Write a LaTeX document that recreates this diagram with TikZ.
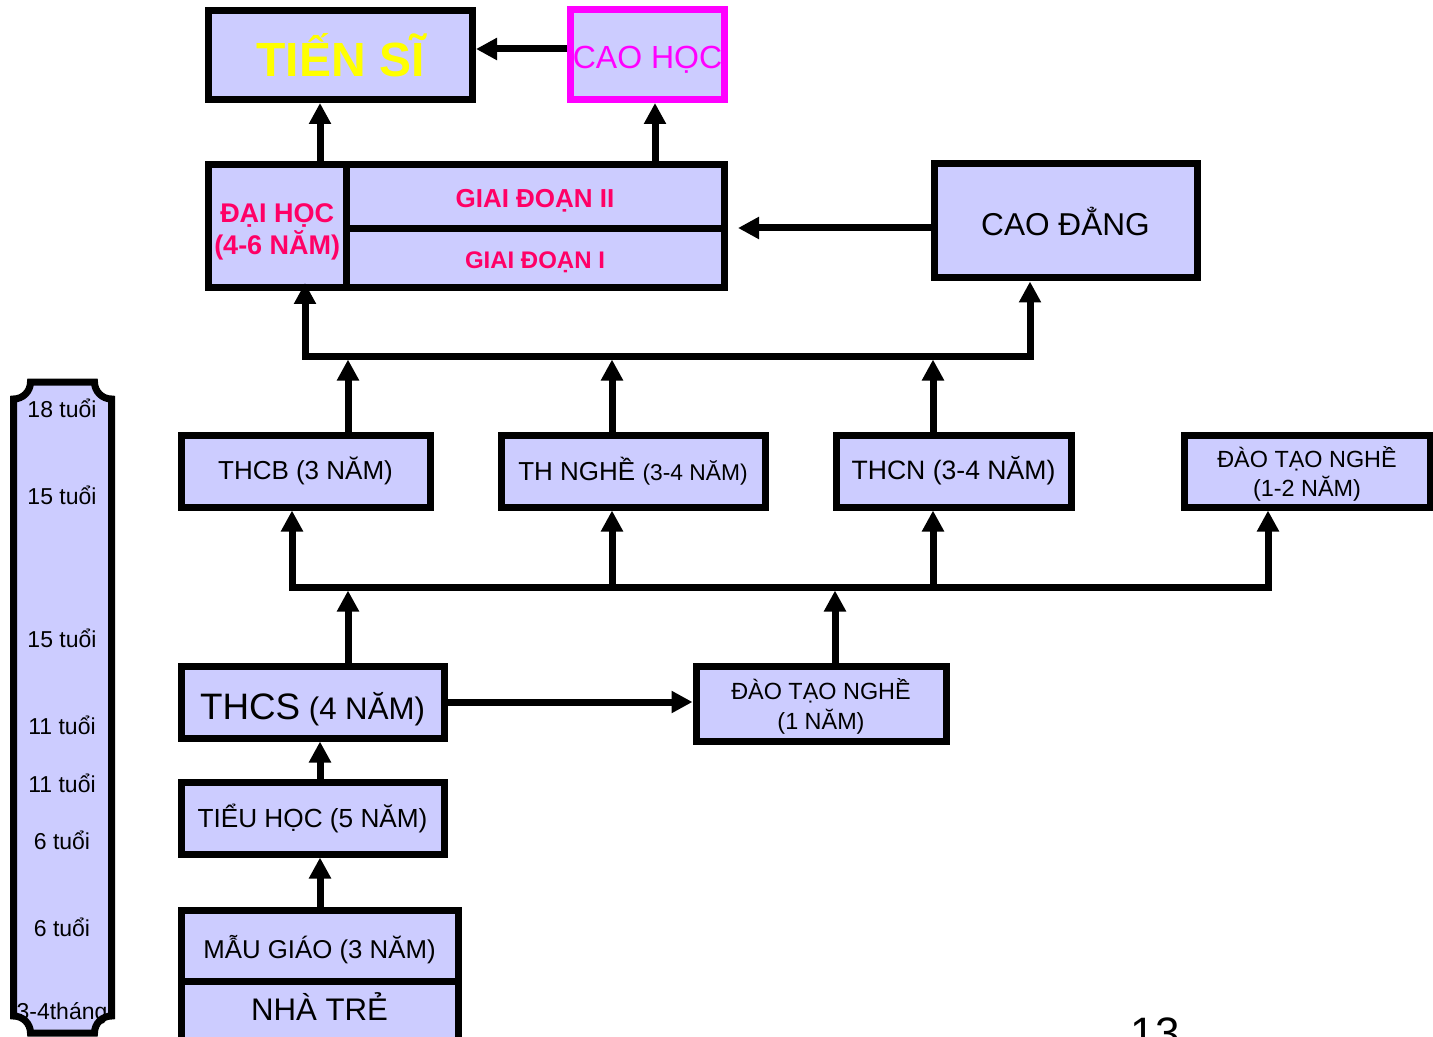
\documentclass[tikz,border=0pt]{standalone}
\usepackage{fontspec}
\setmainfont{Liberation Sans}
\usetikzlibrary{arrows.meta}
\definecolor{boxfill}{HTML}{CCCCFF}
\definecolor{pinkred}{RGB}{255,0,102}
\definecolor{mag}{RGB}{255,0,255}
\definecolor{yel}{RGB}{255,255,0}
\newcommand{\fs}[1]{\fontsize{#1}{#1}\selectfont}
\newcommand{\mystrut}[1]{\rule{0pt}{#1}}
\begin{document}
\begin{tikzpicture}[x=0.5pt,y=-0.5pt,
  box/.style={draw, line width=3.5pt, fill=boxfill, inner sep=0pt, align=center},
  arr/.style={line width=3.5pt, -{Triangle[length=10.5pt,width=10.5pt]}},
  arrtwo/.style={line width=3.5pt, {Triangle[length=10.5pt,width=10.5pt]}-{Triangle[length=10.5pt,width=10.5pt]}},
  tobus/.style={shorten >=1.75pt},
  age/.style={font=\fs{11.5}, inner sep=0pt}]
\useasboundingbox (0,0) rectangle (1433,1037);
\clip (0,0) rectangle (1433,1037);

% age scroll
\filldraw[fill=boxfill, line width=3.5pt] (30.5,382) -- (94.5,382)
  .. controls (94.5,391.4) and (102.1,399) .. (111.5,399) -- (111.5,1016)
  .. controls (102.1,1016) and (94.5,1023.6) .. (94.5,1033) -- (30.5,1033)
  .. controls (30.5,1023.6) and (22.9,1016) .. (13.5,1016) -- (13.5,399)
  .. controls (22.9,399) and (30.5,391.4) .. cycle;
\node[age] (a18) at (62,408) {18 tuổi};
\node[age] (a15a) at (62,495) {15 tuổi};
\node[age] (a15b) at (62,638) {15 tuổi};
\node[age] (a11a) at (62,725) {11 tuổi};
\node[age] (a11b) at (62,783) {11 tuổi};
\node[age] (a6a) at (62,840) {6 tuổi};
\node[age] (a6b) at (62,927) {6 tuổi};
\node[age] (a34) at (62,1013) {3-4tháng};

% boxes
\node[box, minimum width=132pt, minimum height=44.5pt, font=\bfseries\fs{24}, text=yel] (ts) at (340.5,55) {TIẾN SĨ};
\node[box, draw=mag, minimum width=77pt, minimum height=45pt, font=\fs{16}, text=mag] (ch) at (647.5,54.5) {\mystrut{16.8pt}CAO HỌC};
\node[box, minimum width=68.75pt, minimum height=61.75pt, font=\bfseries\fontsize{13.5}{16}\selectfont, text=pinkred] (dh) at (277.25,226.25) {\mystrut{14.7pt}ĐẠI HỌC\\(4-6 NĂM)};
\node[box, minimum width=189pt, minimum height=32.25pt, font=\bfseries\fs{13}, text=pinkred] (gd2) at (535,196.75) {\mystrut{13.3pt}GIAI ĐOẠN II};
\node[box, minimum width=189pt, minimum height=29.5pt, font=\bfseries\fs{12}, text=pinkred] (gd1) at (535,258.5) {\mystrut{12.6pt}GIAI ĐOẠN I};
\node[box, minimum width=131.5pt, minimum height=57pt, font=\fs{15.8}] (cd) at (1065.5,221) {CAO ĐẲNG};

\node[box, minimum width=124.5pt, minimum height=36pt, font=\fs{13}] (thcb) at (305.5,471) {THCB (3 NĂM)};
\node[box, minimum width=132pt, minimum height=36pt, font=\fs{13}] (thn) at (633,471) {TH NGHỀ {\fs{11.4}(3-4 NĂM)}};
\node[box, minimum width=117.5pt, minimum height=36pt, font=\fs{13.3}] (thcn) at (953.5,471) {\mystrut{11.5pt}THCN (3-4 NĂM)};
\node[box, minimum width=123pt, minimum height=36pt, font=\fontsize{11.7}{14.5}\selectfont] (dtn2) at (1307,471) {\mystrut{13pt}ĐÀO TẠO NGHỀ\\(1-2 NĂM)};

\node[box, minimum width=131.5pt, minimum height=36pt, font=\fs{15.6}] (thcs) at (312.5,702) {\mystrut{21.2pt}{\fs{18.4}THCS} (4 NĂM)};
\node[box, minimum width=125pt, minimum height=37.5pt, font=\fontsize{11.7}{15}\selectfont] (dtn1) at (821,703.5) {\mystrut{13pt}ĐÀO TẠO NGHỀ\\(1 NĂM)};
\node[box, minimum width=131.5pt, minimum height=36pt, font=\fs{13.1}] (th) at (312.5,818) {TIỂU HỌC (5 NĂM)};
\node[box, minimum width=138.5pt, minimum height=35.5pt, font=\fs{12.9}] (mg) at (319.5,945.5) {\mystrut{15.9pt}MẪU GIÁO (3 NĂM)};
\node[box, minimum width=138.5pt, minimum height=30pt, font=\fs{15.6}, text depth=4.5pt] (nt) at (319.5,1011) {NHÀ TRẺ};

\node[font=\fs{22}, anchor=base, inner sep=0pt] (pg) at (1155,1048.5) {13};

% helper coordinates
\coordinate (x320) at (320,0);
\coordinate (x655) at (655,0);
\coordinate (x348) at (348,0);
\coordinate (x612) at (612,0);
\coordinate (x933) at (933,0);
\coordinate (x835) at (835,0);
\coordinate (y49) at (0,49);
\coordinate (b1L) at (305,356);
\coordinate (b1R) at (1030,356);
\coordinate (b2L) at (292,587);
\coordinate (b2R) at (1268,587);
\coordinate (dhtip) at (305,283);
\coordinate (cdtip) at (738,228);

% connectors
\draw[arr] (ch.west |- y49) -- (ts.east |- y49);
\draw[arr] (dh.north -| x320) -- (ts.south -| x320);
\draw[arr] (gd2.north -| x655) -- (ch.south -| x655);
\draw[arr] (cd.west |- cdtip) -- (cdtip);
\draw[arrtwo] (dhtip) -- (b1L) -- (b1R) -- (cd.south -| b1R);
\draw[arr, tobus] (thcb.north -| x348) -- (b1L -| x348);
\draw[arr, tobus] (thn.north -| x612) -- (b1L -| x612);
\draw[arr, tobus] (thcn.north -| x933) -- (b1L -| x933);
\draw[arrtwo] (thcb.south -| b2L) -- (b2L) -- (b2R) -- (dtn2.south -| b2R);
\draw[arr] (b2L -| x612) -- (thn.south -| x612);
\draw[arr] (b2L -| x933) -- (thcn.south -| x933);
\draw[arr, tobus] (thcs.north -| x348) -- (b2L -| x348);
\draw[arr, tobus] (dtn1.north -| x835) -- (b2L -| x835);
\draw[arr] (thcs.east) -- (thcs.east -| dtn1.west);
\draw[arr] (th.north -| x320) -- (thcs.south -| x320);
\draw[arr] (mg.north -| x320) -- (th.south -| x320);
\end{tikzpicture}
\end{document}
